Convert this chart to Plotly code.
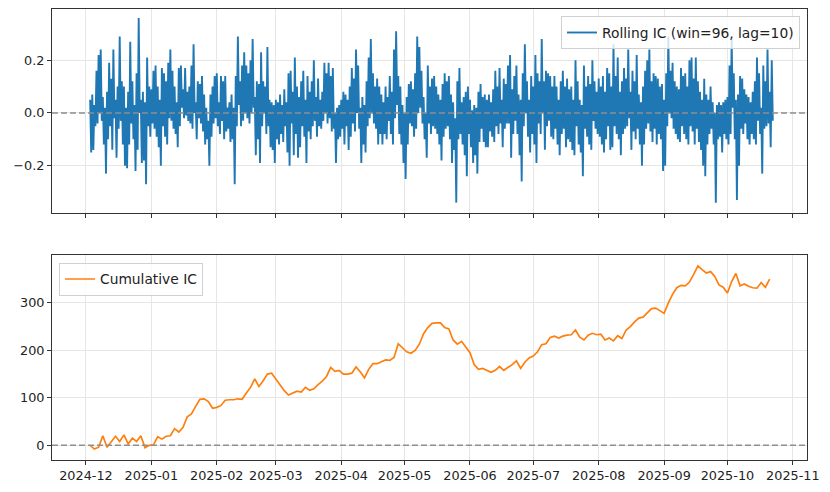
import numpy as np
import pandas as pd
import plotly.graph_objects as go
from plotly.subplots import make_subplots

# ---------------- data ----------------
START = "2024-12-03"          # first rolling-IC sample (day 2 after 2024-12-01)
# Rolling IC: per-day upper and lower excursions (12-hour samples alternate hi / lo)
ic_hi = [
    0.05,0.07,0.03,0.16,0.22,0.24,0.06,0.02,0.08,0.19,
    0.13,0.24,0.05,0.10,0.29,0.12,0.10,0.02,0.08,0.27,
    0.12,0.03,0.15,0.36,0.05,0.08,0.04,0.21,0.10,0.09,
    0.16,0.18,0.10,0.05,0.17,0.15,0.12,0.19,0.24,0.16,
    0.10,0.04,0.17,0.18,0.09,0.17,0.08,0.10,0.18,0.26,
    0.04,0.12,0.11,0.14,0.07,0.02,-0.03,0.07,0.10,0.14,
    0.15,0.04,0.14,0.12,0.14,0.02,0.04,0.07,0.02,0.14,
    0.29,0.12,0.18,0.23,0.18,0.15,0.20,0.28,0.06,0.12,
    0.11,0.23,0.12,0.10,0.25,0.05,0.04,0.03,0.05,0.04,
    0.07,0.03,0.09,0.04,0.15,0.16,0.08,0.21,0.10,0.06,
    0.12,0.16,0.05,0.14,0.08,0.12,0.20,0.06,0.13,0.05,
    0.08,0.19,0.15,0.19,0.14,0.17,0.00,0.02,0.03,0.05,
    0.08,0.07,0.05,0.10,0.17,0.13,0.24,0.18,0.02,0.06,
    0.03,0.12,0.21,0.28,0.15,0.10,0.13,0.10,0.07,0.04,
    0.10,0.06,0.14,0.08,0.24,0.31,0.14,0.10,0.03,0.00,
    0.06,0.11,0.12,0.09,0.15,0.29,0.25,0.16,0.06,0.00,
    0.18,0.10,0.13,
    0.14,0.10,0.07,0.05,0.11,0.15,0.12,0.14,0.07,0.04,
    -0.02,0.12,0.17,0.04,0.06,0.08,0.10,0.05,0.01,0.03,
    0.02,0.08,0.11,0.06,0.07,0.05,0.07,0.04,0.09,0.16,
    0.10,0.17,0.05,0.13,0.11,0.18,0.22,0.09,0.14,0.18,
    0.07,0.05,0.15,0.26,0.12,0.05,0.14,0.10,0.22,0.15,
    0.12,0.28,0.12,0.16,0.15,0.14,0.10,0.14,0.10,0.05,
    0.12,0.16,0.10,0.13,0.09,0.10,0.05,0.20,0.12,0.05,
    0.03,0.18,0.10,0.14,0.11,0.20,0.12,0.08,0.13,0.10,
    0.14,0.08,0.17,
    0.15,0.10,0.26,0.14,0.21,0.08,0.12,0.17,0.13,0.24,
    0.08,0.16,0.12,0.22,0.07,0.04,0.10,0.16,0.20,0.24,
    0.12,0.15,0.14,0.13,0.10,0.11,0.05,0.15,0.29,0.16,
    0.19,0.12,0.10,0.09,0.17,0.14,0.15,0.10,0.20,0.21,
    0.13,0.21,0.12,0.08,0.05,0.13,0.07,0.05,0.10,0.04,
    0.00,0.03,0.04,0.03,0.04,0.05,0.06,0.18,0.28,0.15,
    0.05,0.07,0.14,0.13,0.09,0.07,0.06,0.04,0.08,0.12,
    0.21,0.15,0.02,0.18,0.12,0.24,0.08,0.20,
]
ic_lo = [
    -0.15,-0.14,-0.05,-0.04,0.00,-0.03,-0.12,-0.23,-0.10,-0.05,
    -0.14,-0.02,-0.17,-0.06,-0.03,-0.12,-0.20,-0.21,-0.12,-0.04,
    -0.10,-0.22,-0.14,0.00,-0.19,-0.18,-0.27,-0.05,-0.09,-0.04,
    -0.06,-0.09,-0.13,-0.20,-0.05,-0.09,-0.12,-0.02,-0.03,-0.06,
    -0.08,-0.13,-0.05,0.02,-0.02,-0.01,-0.03,-0.04,-0.06,0.00,
    -0.10,-0.02,-0.04,-0.07,-0.12,-0.10,-0.20,-0.09,-0.04,-0.02,
    -0.05,-0.08,-0.03,-0.10,-0.07,-0.06,-0.11,-0.10,-0.27,-0.05,
    0.03,-0.05,-0.03,0.00,-0.02,-0.04,0.00,0.02,-0.16,-0.10,
    -0.19,-0.05,0.00,-0.08,-0.05,-0.13,-0.14,-0.19,-0.10,-0.12,
    -0.08,-0.11,-0.05,-0.15,-0.20,-0.04,-0.16,-0.08,-0.17,-0.13,
    -0.05,-0.09,-0.19,-0.07,-0.10,-0.05,-0.03,-0.09,-0.05,-0.06,
    -0.03,0.00,-0.04,-0.02,-0.07,-0.06,-0.19,-0.10,-0.09,-0.06,
    -0.12,-0.05,-0.14,-0.09,-0.04,-0.07,0.00,-0.06,-0.19,-0.12,
    -0.15,-0.05,-0.02,0.00,-0.04,-0.06,-0.12,-0.08,-0.12,-0.08,
    -0.10,-0.03,-0.08,-0.12,-0.02,0.03,-0.08,-0.12,-0.19,-0.25,
    -0.12,-0.04,-0.05,-0.09,-0.06,0.00,0.02,-0.04,-0.10,-0.17,
    -0.04,-0.08,-0.05,
    -0.06,-0.08,-0.12,-0.18,-0.09,-0.06,-0.05,-0.10,-0.19,-0.14,
    -0.34,-0.10,-0.08,-0.12,-0.16,-0.24,-0.08,-0.13,-0.19,-0.16,
    -0.23,-0.11,-0.06,-0.11,-0.13,-0.13,-0.07,-0.09,-0.11,-0.05,
    -0.08,-0.04,-0.13,-0.06,-0.04,-0.04,-0.17,-0.08,-0.03,-0.08,
    -0.16,-0.26,-0.05,0.00,-0.09,-0.15,-0.08,-0.12,-0.19,-0.04,
    -0.08,0.00,-0.14,-0.05,-0.03,-0.09,-0.10,-0.06,-0.12,-0.16,
    -0.08,-0.06,-0.13,-0.10,-0.11,-0.14,-0.16,-0.05,-0.12,-0.15,
    -0.24,-0.06,-0.09,-0.12,-0.14,-0.03,-0.06,-0.08,-0.09,-0.12,
    -0.15,-0.10,-0.05,
    -0.14,-0.13,-0.05,-0.08,-0.10,-0.16,-0.08,-0.06,-0.05,-0.02,
    -0.14,-0.07,-0.10,-0.06,-0.12,-0.20,-0.12,-0.06,-0.04,-0.07,
    -0.11,-0.06,-0.12,-0.08,-0.10,-0.22,-0.20,-0.05,0.00,-0.02,
    -0.06,-0.08,-0.10,-0.11,-0.05,-0.08,-0.10,-0.12,-0.05,-0.07,
    -0.12,-0.06,-0.11,-0.14,-0.20,-0.24,-0.12,-0.08,-0.06,-0.12,
    -0.34,-0.10,-0.09,-0.15,-0.08,-0.10,-0.12,-0.08,0.02,-0.10,
    -0.33,-0.20,-0.06,-0.08,-0.04,-0.10,-0.12,-0.08,-0.10,-0.12,
    -0.03,-0.08,-0.23,-0.06,-0.05,-0.04,-0.13,-0.03,
]

# Cumulative IC, one reading every 2 days
CUM_START = "2024-12-03"
cum_ic = [
    0,-8,-4,20,-4,8,19,8,22,3,
    15,8,20,-5,0,1,18,13,19,20,
    35,28,38,60,66,82,97,98,92,78,
    80,84,95,96,96,98,97,110,122,140,
    124,136,150,152,140,128,115,106,110,114,
    112,122,116,119,128,135,145,164,156,158,
    150,150,152,165,155,142,160,172,172,176,
    180,179,185,214,205,197,194,200,213,235,
    248,257,258,258,248,245,222,213,219,208,
    195,170,160,162,158,154,158,166,158,164,
    170,178,162,175,184,188,197,212,214,227,
    230,226,230,232,233,243,228,222,232,236,
    233,234,222,226,220,231,225,243,250,260,
    268,270,280,288,289,284,278,300,318,332,
    337,336,344,360,378,370,363,366,356,338,
    333,321,345,362,336,340,335,332,331,343,
    333,350,
]

month_ticks = ["2024-12", "2025-01", "2025-02", "2025-03", "2025-04", "2025-05",
               "2025-06", "2025-07", "2025-08", "2025-09", "2025-10", "2025-11"]

# ---------------- build series ----------------
ic_vals = [v for pair in zip(ic_hi, ic_lo) for v in pair]
ic_time = pd.date_range(START, periods=len(ic_vals), freq="12h")
cum_time = pd.date_range(CUM_START, periods=len(cum_ic), freq="2D")
tickvals = [pd.Timestamp(m + "-01") for m in month_ticks]

FONT = "DejaVu Sans, Arial, sans-serif"
FS = 12.8      # tick labels
FS_LEG = 13.8  # legend text
fig = make_subplots(rows=2, cols=1, shared_xaxes=True)

fig.add_trace(go.Scatter(x=ic_time, y=ic_vals, mode="lines",
                         line=dict(color="#1f77b4", width=1.9),
                         name="Rolling IC (win=96, lag=10)", legend="legend"),
              row=1, col=1)
fig.add_trace(go.Scatter(x=cum_time, y=cum_ic, mode="lines",
                         line=dict(color="#ff7f0e", width=1.7),
                         name="Cumulative IC", legend="legend2"),
              row=2, col=1)

for r in (1, 2):
    fig.add_hline(y=0, line=dict(color="#8f8f8f", width=1.5, dash="6px,3px"),
                  row=r, col=1)

xrange = ["2024-11-14 22:00", "2025-11-07 17:00"]
axis_common = dict(showline=True, linecolor="#333", linewidth=1, mirror=True,
                   ticks="outside", ticklen=4, tickwidth=1, tickcolor="#333",
                   showgrid=True, gridcolor="#e6e6e6", gridwidth=1,
                   zeroline=False, tickfont=dict(family=FONT, size=FS, color="#222"))

fig.update_xaxes(**axis_common, range=xrange, tickvals=tickvals,
                 tickformat="%Y-%m")
fig.update_xaxes(showticklabels=False, row=1, col=1)
fig.update_yaxes(**axis_common)
fig.update_yaxes(range=[-0.381, 0.394], tickvals=[-0.2, 0.0, 0.2],
                 tickformat=".1f", row=1, col=1)
fig.update_yaxes(range=[-31, 402], tickvals=[0, 100, 200, 300], row=2, col=1)

# the page body adds an 8px margin, so the figure is sized / offset to compensate
fig.update_layout(
    width=822, height=484,
    margin=dict(l=44, r=23, t=1, b=32),
    paper_bgcolor="white", plot_bgcolor="white",
    font=dict(family=FONT, size=FS, color="#222"),
    yaxis=dict(domain=[0.5467, 1.0]),
    yaxis2=dict(domain=[0.0, 0.4556]),
    legend=dict(x=0.9907, y=0.9844, xanchor="right", yanchor="top",
                bgcolor="rgba(255,255,255,0.8)", bordercolor="#d0d0d0",
                borderwidth=1, itemwidth=30, font=dict(family=FONT, size=FS_LEG)),
    legend2=dict(x=0.0093, y=0.4378, xanchor="left", yanchor="top",
                 bgcolor="rgba(255,255,255,0.8)", bordercolor="#d0d0d0",
                 borderwidth=1, itemwidth=30, font=dict(family=FONT, size=FS_LEG)),
    showlegend=True,
)

fig.write_html("out.html")
